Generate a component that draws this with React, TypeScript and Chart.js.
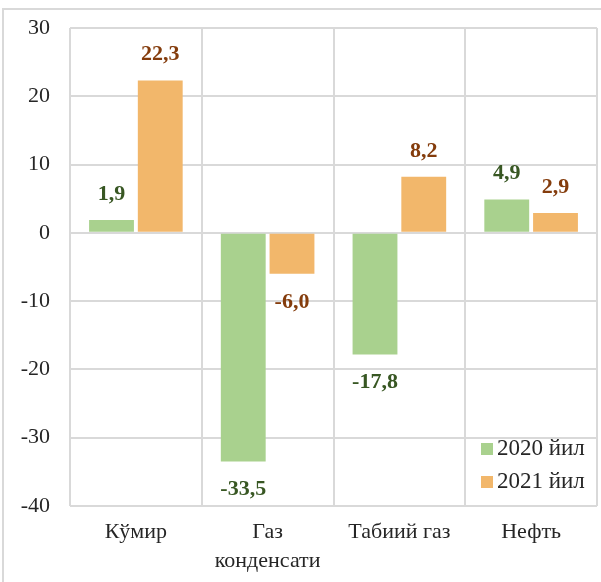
import React, { useEffect, useRef } from "react";
import { Chart, registerables } from "chart.js";

Chart.register(...registerables);

const categories: (string | string[])[] = ["Кўмир", ["Газ", "конденсати"], "Табиий газ", "Нефть"];
const series2020: number[] = [1.9, -33.5, -17.8, 4.9];
const series2021: number[] = [22.3, -6.0, 8.2, 2.9];
const seriesNames: string[] = ["2020 йил", "2021 йил"];
const yMin = -40;
const yMax = 30;
const yStep = 10;

const barColors = ["#A9D18E", "#F2B76B"];
const labelColors = ["#385723", "#843C0C"];
const FONT = "'Liberation Serif', 'Times New Roman', serif";

const valueLabels = {
  id: "valueLabels",
  afterDatasetsDraw(chart: any) {
    const ctx = chart.ctx;
    ctx.save();
    ctx.font = `bold 22px ${FONT}`;
    ctx.textAlign = "center";
    ctx.textBaseline = "middle";
    chart.data.datasets.forEach((ds: any, di: number) => {
      const meta = chart.getDatasetMeta(di);
      meta.data.forEach((el: any, i: number) => {
        const v = ds.data[i] as number;
        const txt = v.toFixed(1).replace(".", ",");
        const y = v >= 0 ? el.y - 26 : el.y + 28;
        ctx.fillStyle = labelColors[di];
        ctx.fillText(txt, el.x, y);
      });
    });
    ctx.restore();
  },
};

const insideLegend = {
  id: "insideLegend",
  afterDraw(chart: any) {
    const ctx = chart.ctx;
    const area = chart.chartArea;
    ctx.save();
    ctx.font = `23px ${FONT}`;
    ctx.textBaseline = "middle";
    ctx.textAlign = "left";
    const x0 = area.right - 116;
    chart.data.datasets.forEach((ds: any, di: number) => {
      const cy = area.bottom - 57 + di * 33;
      ctx.fillStyle = ds.backgroundColor;
      ctx.fillRect(x0, cy - 6, 12, 12);
      ctx.fillStyle = "#262626";
      ctx.fillText(ds.label, x0 + 16, cy);
    });
    ctx.restore();
  },
};

export default function App() {
  const ref = useRef<HTMLCanvasElement | null>(null);
  useEffect(() => {
    if (!ref.current) return;
    const chart = new Chart(ref.current, {
      type: "bar",
      data: {
        labels: categories,
        datasets: [
          { label: seriesNames[0], data: series2020, backgroundColor: barColors[0], categoryPercentage: 0.74, barPercentage: 0.92 },
          { label: seriesNames[1], data: series2021, backgroundColor: barColors[1], categoryPercentage: 0.74, barPercentage: 0.92 },
        ],
      },
      options: {
        animation: false,
        responsive: false,
        maintainAspectRatio: false,
        layout: { padding: { top: 28, right: 4, left: 0, bottom: 0 } },
        plugins: { legend: { display: false }, tooltip: { enabled: false } },
        scales: {
          x: {
            grid: { color: "#D9D9D9", lineWidth: 2, drawTicks: false, offset: true },
            border: { display: false },
            ticks: { color: "#262626", font: { family: FONT, size: 22, lineHeight: 1.3 }, padding: 12, maxRotation: 0, autoSkip: false },
            afterFit: (s: any) => { s.height = 76; },
          },
          y: {
            min: yMin,
            max: yMax,
            grid: { color: "#D9D9D9", lineWidth: 2, drawTicks: true, tickLength: 20, tickColor: "rgba(0,0,0,0)" },
            border: { display: false },
            ticks: { stepSize: yStep, color: "#262626", font: { family: FONT, size: 22 }, padding: 0 },
            afterFit: (s: any) => { s.width = 70; },
          },
        },
      },
      plugins: [valueLabels, insideLegend],
    });
    return () => chart.destroy();
  }, []);
  return (
    <div style={{ position: "fixed", left: 0, top: 0, width: 601, height: 582, background: "#fff", overflow: "hidden" }}>
      <div style={{ position: "absolute", left: 2, top: 8, width: 700, height: 700, borderLeft: "2px solid #D9D9D9", borderTop: "2px solid #D9D9D9" }} />
      <canvas ref={ref} width={601} height={582} style={{ position: "absolute", left: 0, top: 0, width: 601, height: 582 }} />
    </div>
  );
}
